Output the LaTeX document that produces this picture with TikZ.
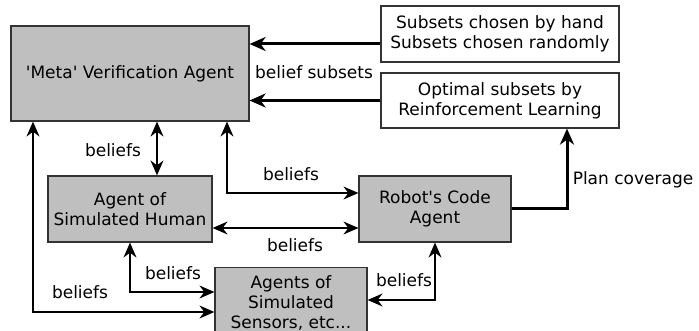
\documentclass[tikz,border=0pt]{standalone}
\usepackage{fontspec}
\setmainfont{DejaVu Sans}
\usetikzlibrary{arrows.meta,calc}
\begin{document}
\begin{tikzpicture}[x=1pt,y=-1pt,
  font=\fontsize{17}{20}\selectfont,
  agent/.style={draw=black!80,line width=1.2pt,fill=black!25,inner sep=0pt,align=center},
  plain/.style={draw=black!80,line width=1.2pt,fill=white,inner sep=0pt,align=center},
  lbl/.style={inner sep=0pt,anchor=center},
  thinarr/.style={line width=1.3pt,{Stealth[length=15pt,width=13pt,inset=5pt]}-{Stealth[length=15pt,width=13pt,inset=5pt]}},
  thickarr/.style={line width=3pt,-{Stealth[length=16pt,width=14pt,inset=5pt]}}
]
\useasboundingbox (0,0) rectangle (699,331);
\node[agent,minimum width=238pt,minimum height=95pt] (meta) at (130,73.5) {\textquotesingle Meta\textquotesingle{} Verification Agent};
\node[plain,minimum width=238pt,minimum height=56pt] (subsets) at (500,34) {Subsets chosen by hand\\Subsets chosen randomly};
\node[plain,minimum width=238pt,minimum height=55pt] (optimal) at (500,100.5) {Optimal subsets by\\Reinforcement Learning};
\node[agent,minimum width=164pt,minimum height=66pt] (human) at (130,209) {Agent of\\Simulated Human};
\node[agent,minimum width=152pt,minimum height=66pt] (robot) at (435,209) {Robot\textquotesingle s Code\\Agent};
\node[agent,minimum width=152pt,minimum height=70pt,anchor=north] (sensors) at (291,267) {Agents of\\Simulated\\Sensors, etc...};
\coordinate (c1) at (33,312);
\coordinate (c2) at (227,193);
\coordinate (c3) at (130,292);
\coordinate (c4) at (435,300);
\coordinate (c5) at (567,209);
% thick arrows
\draw[thickarr] (subsets.west |- 0,44) -- (meta.east |- 0,44);
\draw[thickarr] (optimal.west) -- (meta.east |- optimal.west);
\draw[thickarr] (robot.east) -- (c5) -- (optimal.south -| c5);
% thin arrows
\draw[thinarr] (meta.south -| c1) -- (c1) -- (sensors.west |- c1);
\draw[thinarr] (meta.south -| 157,0) -- (human.north -| 157,0);
\draw[thinarr] (meta.south -| c2) -- (c2) -- (robot.west |- c2);
\draw[thinarr] (human.east |- 0,228) -- (robot.west |- 0,228);
\draw[thinarr] (human.south) -- (c3) -- (sensors.west |- c3);
\draw[thinarr] (sensors.east |- c4) -- (c4) -- (robot.south);
% labels
\node[lbl] (l0) at (314,72) {belief subsets};
\node[lbl] (l1) at (113,150) {beliefs};
\node[lbl] (l2) at (291,174) {beliefs};
\node[lbl] (l3) at (295,245) {beliefs};
\node[lbl] (l4) at (173,273) {beliefs};
\node[lbl] (l5) at (80,292) {beliefs};
\node[lbl] (l6) at (404,280) {beliefs};
\node[lbl] (l7) at (633,180) {Plan coverage};
\end{tikzpicture}
\end{document}
